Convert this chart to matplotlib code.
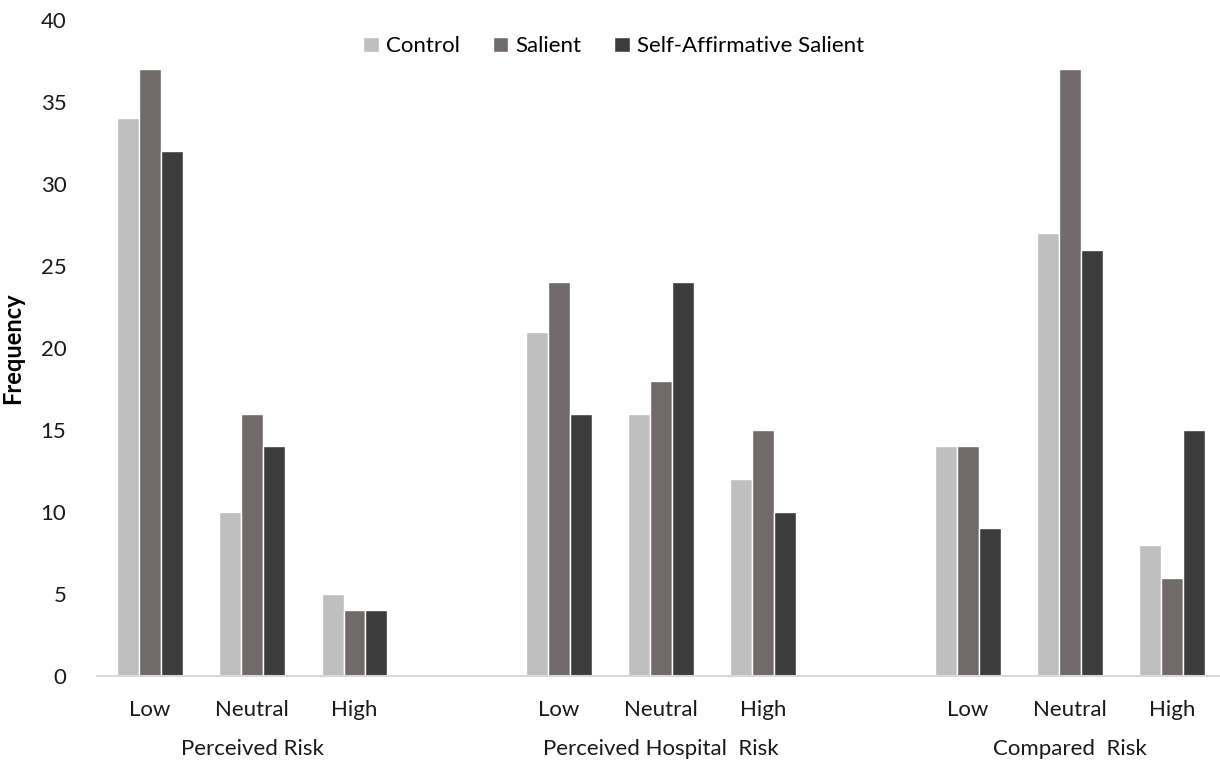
import numpy as np
import matplotlib.pyplot as plt

plt.rcParams['font.family'] = ['Lato', 'DejaVu Sans']

categories = ["Perceived Risk", "Perceived Hospital  Risk", "Compared  Risk"]
levels = ["Low", "Neutral", "High"]
series = ["Control", "Salient", "Self-Affirmative Salient"]

control = [34, 10, 5, 21, 16, 12, 14, 27, 8]
salient = [37, 16, 4, 24, 18, 15, 14, 37, 6]
self_aff = [32, 14, 4, 16, 24, 10, 9, 26, 15]

colors = ["#BFBFBF", "#706B6A", "#3C3C3C"]

# group positions: 3 levels per category, one empty slot between categories
pos = np.array([0, 1, 2, 4, 5, 6, 8, 9, 10], dtype=float)

fig = plt.figure(figsize=(12.2, 7.62), dpi=100)
ax = fig.add_axes([0.0795, 0.1129, 0.9205, 0.8609])

width = 0.215
for i, (vals, name) in enumerate(zip([control, salient, self_aff], series)):
    ax.bar(pos + (i - 1) * width, vals, width, color=colors[i], edgecolor="white",
           linewidth=1.0, label=name)

ax.set_xlim(-0.52, 10.47)
ax.set_ylim(0, 40)
ax.set_yticks(range(0, 41, 5))
ax.set_xticks(pos)
ax.set_xticklabels(levels * 3)
ax.tick_params(axis="both", length=0, labelsize=16, colors="#1a1a1a")
ax.tick_params(axis="x", pad=17)
ax.tick_params(axis="y", pad=22)

for s in ["top", "right", "left"]:
    ax.spines[s].set_visible(False)
ax.spines["bottom"].set_color("#D9D9D9")
ax.spines["bottom"].set_linewidth(1.5)

for c, name in enumerate(categories):
    ax.text(pos[c * 3 + 1], -0.112, name, transform=ax.get_xaxis_transform(),
            ha="center", va="center", fontsize=16, color="#1a1a1a")

ax.set_ylabel("Frequency", fontsize=17, fontweight="bold", labelpad=12)

ax.legend(loc="center", bbox_to_anchor=(0.46, 0.96), ncol=3, frameon=False,
          fontsize=16, handlelength=0.7, handleheight=0.7, handletextpad=0.3,
          columnspacing=1.5)

fig.savefig("out.png", dpi=100)
